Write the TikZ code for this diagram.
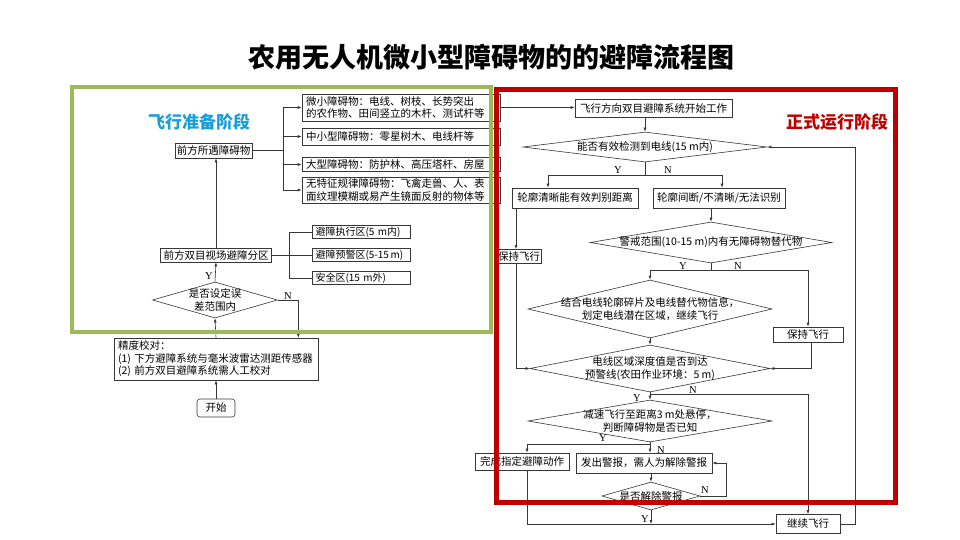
\documentclass[tikz,border=0pt]{standalone}
\usepackage{fontspec}
\setmainfont{Noto Sans CJK SC}
\newfontfamily\latinserif{Liberation Serif}
\usetikzlibrary{arrows.meta, positioning, shapes.geometric}
\definecolor{verdeFase}{RGB}{155,187,89}
\definecolor{rojoFase}{RGB}{192,0,0}
\definecolor{azulFase}{RGB}{26,158,218}
\definecolor{lineaGris}{RGB}{55,55,55}

\begin{document}
\begin{tikzpicture}[
    x=1pt, y=-1pt,
    box/.style={draw=lineaGris, fill=white, line width=0.6pt, inner sep=1pt, align=center, font=\fontsize{10.5}{12.5}\selectfont},
    listbox/.style={box, align=left, inner xsep=4pt},
    zonebox/.style={listbox, text width=91pt, inner xsep=3.5pt, minimum height=13pt, font=\fontsize{10}{12}\selectfont},
    decision/.style={draw=lineaGris, fill=white, line width=0.6pt, shape=diamond, inner sep=0pt},
    dtext/.style={align=center, inner sep=0pt, font=\fontsize{10.5}{12.5}\selectfont},
    line/.style={line width=0.6pt, draw=lineaGris},
    arrow/.style={line width=0.6pt, draw=lineaGris, -{Latex[length=4pt, width=3pt]}},
    yn/.style={font=\latinserif\fontsize{10.5}{12}\selectfont, inner sep=0pt},
    phase/.style={font=\fontsize{17}{20}\selectfont\bfseries}
]
    \useasboundingbox[fill=white] (0,0) rectangle (960,540);

    \node[font=\fontsize{27}{31}\selectfont\bfseries] (title) at (491,57) {农用无人机微小型障碍物的的避障流程图};

    % preparation phase
    \node[box, rounded corners=3pt, minimum width=38pt, minimum height=18pt] (start) at (216,408) {开始};
    \node[listbox, text width=196pt, minimum height=42pt] (calib) at (216,359) {精度校对：\\(1) 下方避障系统与毫米波雷达测距传感器\\(2) 前方双目避障系统需人工校对};
    \node[decision, minimum width=125pt, minimum height=36pt, label={[dtext]center:是否设定误\\差范围内}] (errchk) at (215,300) {};
    \node[box, minimum width=111pt, minimum height=14pt] (zones) at (216,255) {前方双目视场避障分区};
    \node[zonebox] (z1) at (361,232) {避障执行区(5 m内)};
    \node[zonebox] (z2) at (361,255) {避障预警区(5-15\,m)};
    \node[zonebox] (z3) at (361,278) {安全区(15 m外)};
    \node[box, minimum width=77pt, minimum height=15pt] (obst) at (213.5,150.5) {前方所遇障碍物};
    \node[listbox, text width=190pt, minimum height=27pt] (o1) at (401,107.5) {微小障碍物：电线、树枝、长势突出\\的农作物、田间竖立的木杆、测试杆等};
    \node[listbox, text width=190pt, minimum height=17pt] (o2) at (401,136.5) {中小型障碍物：零星树木、电线杆等};
    \node[listbox, text width=190pt, minimum height=14pt] (o3) at (401,164.5) {大型障碍物：防护林、高压塔杆、房屋};
    \node[listbox, text width=190pt, minimum height=26pt] (o4) at (401,190) {无特征规律障碍物：飞禽走兽、人、表\\面纹理模糊或易产生镜面反射的物体等};
    \coordinate (otrunk) at (283,150.5);
    \coordinate (ztrunk) at (289,255);

    \draw[arrow] (start) -- (calib);
    \draw[arrow] (calib.north) -- (errchk.south);
    \draw[arrow] (errchk.north) -- (zones.south);
    \draw[arrow] (errchk.east) -| ([xshift=-20pt]calib.north east);
    \node[yn] (ey) at (209,276) {Y};
    \node[yn] (en) at (288,296) {N};
    \draw[line] (zones.east) -- (ztrunk);
    \draw[line] (ztrunk) |- (z1.west);
    \draw[line] (ztrunk) -- (z2.west);
    \draw[line] (ztrunk) |- (z3.west);
    \draw[arrow] (zones.north) -- (zones.north |- obst.south);
    \draw[line] (obst.east) -- (otrunk);
    \draw[arrow] (otrunk) |- (o1.west);
    \draw[arrow] (otrunk) |- (o2.west);
    \draw[arrow] (otrunk) |- (o3.west);
    \draw[arrow] (otrunk) |- (o4.west);

    % operation phase
    \node[box, minimum width=157pt, minimum height=18pt] (work) at (653.5,108.5) {飞行方向双目避障系统开始工作};
    \node[decision, minimum width=244pt, minimum height=30pt, label={[dtext]center:能否有效检测到电线(15 m内)}] (detect) at (645,147) {};
    \node[box, minimum width=126pt, minimum height=20pt] (clear) at (575,198) {轮廓清晰能有效判别距离};
    \node[box, minimum width=132pt, minimum height=20pt] (unclear) at (719,198) {轮廓间断/不清晰/无法识别};
    \node[box, minimum width=44pt, minimum height=14pt] (keepL) at (519,256.5) {保持飞行};
    \node[decision, minimum width=242pt, minimum height=41pt, label={[dtext]center:警戒范围(10-15 m)内有无障碍物替代物}] (warn) at (711,242.5) {};
    \node[decision, minimum width=244pt, minimum height=58pt, label={[dtext]center:结合电线轮廓碎片及电线替代物信息，\\划定电线潜在区域，继续飞行}] (combine) at (650,309) {};
    \node[box, minimum width=70pt, minimum height=15pt] (keepR) at (808,334.5) {保持飞行};
    \node[decision, minimum width=240pt, minimum height=47pt, label={[dtext]center:电线区域深度值是否到达\\预警线(农田作业环境：5 m)}] (depth) at (650,368.5) {};
    \node[decision, minimum width=244pt, minimum height=42pt, label={[dtext]center:减速飞行至距离3 m处悬停，\\判断障碍物是否已知}] (slow) at (650,421) {};
    \node[box, minimum width=94pt, minimum height=17pt] (done) at (522,461.5) {完成指定避障动作};
    \node[box, minimum width=136pt, minimum height=20pt] (alarm) at (644,463) {发出警报，需人为解除警报};
    \node[decision, minimum width=98pt, minimum height=28pt, label={[dtext]center:是否解除警报}] (release) at (651,496) {};
    \node[box, minimum width=64pt, minimum height=19pt] (cont) at (808,524) {继续飞行};
    \coordinate (dsplit) at (645,175);
    \coordinate (wsplit) at (711,270);
    \coordinate (ssplit) at (650,444);

    \draw[arrow] (o1.east) -- (o1.east -| work.west);
    \draw[arrow] (work.south -| detect.north) -- (detect.north);
    \draw[line] (detect.south) -- (dsplit);
    \draw[arrow] (dsplit) -| ([xshift=-27pt]clear.north);
    \draw[arrow] (dsplit) -| ([xshift=3pt]unclear.north);
    \node[yn] (dy) at (618,170) {Y};
    \node[yn] (dn) at (668,170) {N};
    \draw[arrow] ([xshift=-59pt]clear.south) -- ([xshift=-59pt]clear.south |- keepL.north);
    \draw[arrow] ([xshift=-3pt]keepL.south) |- (depth.west);
    \draw[arrow] (unclear.south -| warn.north) -- (warn.north);
    \draw[line] (warn.south) -- (wsplit);
    \draw[arrow] (wsplit) -| (combine.north);
    \draw[arrow] (wsplit) -| (keepR.north);
    \node[yn] (wy) at (683,266) {Y};
    \node[yn] (wn) at (738,266) {N};
    \draw[arrow] ([xshift=3pt]keepR.south) |- (depth.east);
    \draw[arrow] (combine.south) -- (depth.north);
    \draw[arrow] (depth.south) -- (slow.north);
    \draw[arrow] (depth.south) -- ++(0,2) -| (cont.north);
    \node[yn] (py) at (637,398) {Y};
    \node[yn] (pn) at (693,390) {N};
    \draw[line] (slow.south) -- (ssplit);
    \draw[arrow] (ssplit) -| ([xshift=5pt]done.north);
    \draw[arrow] (ssplit) -- (ssplit |- alarm.north);
    \node[yn] (sy) at (603,438) {Y};
    \node[yn] (sn) at (661,450) {N};
    \draw[arrow] (alarm.south -| release.north) -- (release.north);
    \draw[arrow] (release.east) -- ++(26,0) |- (alarm.east);
    \node[yn] (rn) at (705,490) {N};
    \draw[arrow] (release.south) -- (release.south |- cont.west);
    \node[yn] (ry) at (645,519) {Y};
    \draw[arrow] ([xshift=5pt]done.south) |- (cont.west);
    \draw[arrow] (cont.east) -- ++(15,0) |- (detect.east);

    % phase frames
    \draw[verdeFase, line width=4.5pt] (72,87) rectangle (491,332);
    \draw[rojoFase, line width=5pt] (496.5,89.5) rectangle (895,502);
    \node[phase, text=azulFase] (prep) at (199,122) {飞行准备阶段};
    \node[phase, text=rojoFase] (oper) at (837,122) {正式运行阶段};
\end{tikzpicture}
\end{document}
